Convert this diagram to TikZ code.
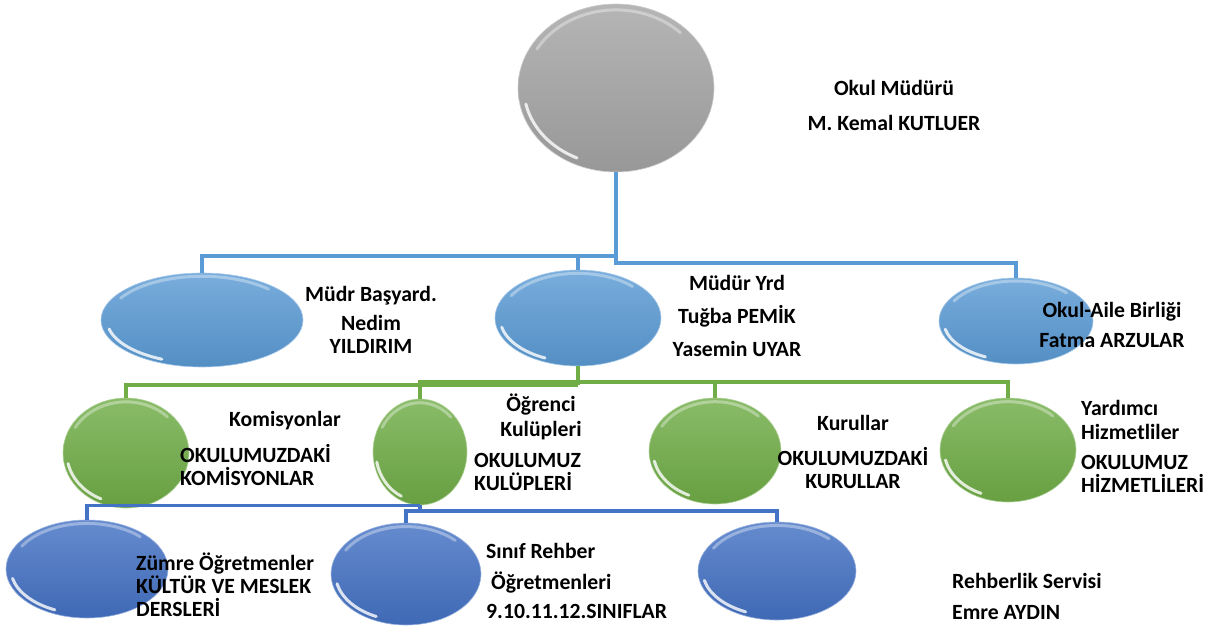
\documentclass[tikz,border=0pt]{standalone}
\usepackage{fontspec}
\setmainfont{Carlito}
\usetikzlibrary{shapes.geometric}

\definecolor{greyball}{HTML}{A5A5A5}
\definecolor{skyball}{HTML}{5B9BD5}
\definecolor{leafball}{HTML}{70AD47}
\definecolor{navyball}{HTML}{4472C4}

\tikzset{
  ball/.style={ellipse, inner sep=0pt, draw=#1!55!white, line width=0.6pt,
    top color=#1!82!white, bottom color=#1!92!black},
  lbl/.style={font=\fontsize{21.7}{23}\selectfont\bfseries, inner sep=0pt, align=center},
  lbll/.style={lbl, align=left, anchor=west},
  wire/.style={draw=#1, line width=3.3pt},
  gloss/.style={white, line cap=round},
}

\newcommand\glint[3]{%
  \pgfmathsetmacro\gx{0.94*#2}\pgfmathsetmacro\gy{0.92*#3}%
  \draw[gloss, line width=3pt, opacity=.8] ([shift={(192:\gx pt and \gy pt)}]#1.center)
    arc[start angle=192, end angle=245, x radius=\gx pt, y radius=\gy pt];
  \pgfmathsetmacro\gx{0.93*#2}\pgfmathsetmacro\gy{0.93*#3}%
  \draw[gloss, line width=3pt, opacity=.35] ([shift={(45:\gx pt and \gy pt)}]#1.center)
    arc[start angle=45, end angle=150, x radius=\gx pt, y radius=\gy pt];
}

\begin{document}
\begin{tikzpicture}[x=1pt, y=-1pt]
\useasboundingbox (0,0) rectangle (1216,628);

\node[ball=greyball, minimum width=196pt, minimum height=168pt] (boss) at (616,88) {};

\node[ball=skyball, minimum width=202pt, minimum height=94pt] (basyard) at (202,320) {};
\node[ball=skyball, minimum width=166pt, minimum height=96pt] (yrd) at (578,318) {};
\node[ball=skyball, minimum width=154pt, minimum height=86pt] (aile) at (1016,321) {};

\node[ball=leafball, minimum width=126pt, minimum height=110pt] (kom) at (126,453) {};
\node[ball=leafball, minimum width=94pt, minimum height=106pt] (ogr) at (420,452) {};
\node[ball=leafball, minimum width=132pt, minimum height=106pt] (kur) at (715,451) {};
\node[ball=leafball, minimum width=136pt, minimum height=104pt] (yard) at (1008,450) {};

\node[ball=navyball, minimum width=162pt, minimum height=98pt] (zum) at (87,569) {};
\node[ball=navyball, minimum width=150pt, minimum height=102pt] (sinif) at (406,574) {};
\node[ball=navyball, minimum width=158pt, minimum height=98pt] (reh) at (777,571) {};

\foreach \n/\rx/\ry in {boss/98/84, basyard/101/47, yrd/83/48, aile/77/43,
  kom/63/55, ogr/47/53, kur/66/53, yard/68/52,
  zum/81/49, sinif/75/51, reh/79/49}
  {\glint{\n}{\rx}{\ry}}

\coordinate (j1) at (1016,263);
\coordinate (j2) at (616,256);
\coordinate (j3) at (578,385);
\coordinate (j4) at (578,382);
\coordinate (j5) at (420,511);

\draw[wire=skyball] (boss.south) |- (j1) -| (aile.north);
\draw[wire=skyball] (basyard.north) |- (j2);
\draw[wire=skyball] (yrd.north) -- (yrd.north |- j2);

\draw[wire=leafball] (yrd.south) -- (j3);
\draw[wire=leafball] (kom.north) |- (j3);
\draw[wire=leafball] (ogr.north) |- (j4) -| (yard.north);
\draw[wire=leafball] (kur.north) -- (kur.north |- j4);

\draw[wire=navyball] (zum.north) |- (ogr.south);
\draw[wire=navyball] (ogr.south) -- (j5);
\draw[wire=navyball] (sinif.north) |- (j5) -| (reh.north);

\node[lbl] (bossTxt) at (894,105) {Okul Müdürü\\[12pt]M. Kemal KUTLUER};
\node[lbl] (basTxt) at (371,320) {Müdr Başyard.\\[6pt]Nedim\\YILDIRIM};
\node[lbl] (yrdTxt) at (737,316) {Müdür Yrd\\[10pt]Tuğba PEMİK\\[10pt]Yasemin UYAR};
\node[lbl] (aileTxt) at (1112,325) {Okul-Aile Birliği\\[7pt]Fatma ARZULAR};

\node[lbl] (komHead) at (285,421) {Komisyonlar};
\node[lbll] (komTxt) at (180,464.5) {OKULUMUZDAKİ\\KOMİSYONLAR};
\node[lbl] (ogrHead) at (541,416.5) {Öğrenci\\[2pt]Kulüpleri};
\node[lbll] (ogrTxt) at (474,471.5) {OKULUMUZ\\KULÜPLERİ};
\node[lbl] (kurTxt) at (853,452) {Kurullar\\[12pt]OKULUMUZDAKİ\\KURULLAR};
\node[lbll] (yardTxt) at (1081,446.5) {Yardımcı\\[1pt]Hizmetliler\\[7pt]OKULUMUZ\\HİZMETLİLERİ};

\node[lbll] (zumTxt) at (136,585) {Zümre Öğretmenler\\KÜLTÜR VE MESLEK\\DERSLERİ};
\node[lbll] (sinifTxt) at (486,580.5) {Sınıf Rehber\\[8pt]\hspace*{5pt}Öğretmenleri\\[6pt]9.10.11.12.SINIFLAR};
\node[lbll] (rehTxt) at (952,596) {Rehberlik Servisi\\[8pt]Emre AYDIN};
\end{tikzpicture}
\end{document}
